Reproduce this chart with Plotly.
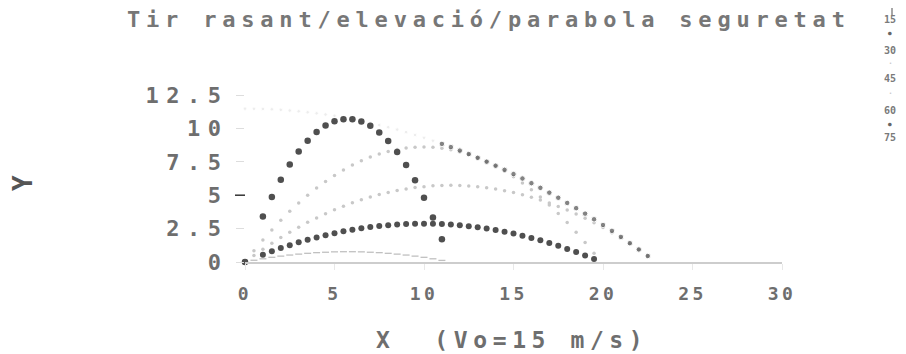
import plotly.graph_objects as go

# ---- data (V0 = 15 m/s) ----
ANGLE_LABELS = ["15", "30", "45", "60", "75"]

X_15 = [0.5, 1, 1.5, 2, 2.5, 3, 3.5, 4, 4.5, 5, 5.5, 6, 6.5, 7, 7.5, 8, 8.5, 9, 9.5, 10, 10.5, 11]
Y_15 = [0.13, 0.24, 0.35, 0.44, 0.52, 0.59, 0.65, 0.70, 0.73, 0.76, 0.77, 0.77, 0.76, 0.73, 0.70, 0.65,
        0.59, 0.52, 0.44, 0.35, 0.24, 0.12]

X_30 = [0, 1, 1.5, 2, 2.5, 3, 3.5, 4, 4.5, 5, 5.5, 6, 6.5, 7, 7.5, 8, 8.5, 9, 9.5, 10, 10.5, 11, 11.5,
        12, 12.5, 13, 13.5, 14, 14.5, 15, 15.5, 16, 16.5, 17, 17.5, 18, 18.5, 19, 19.5]
Y_30 = [0, 0.55, 0.80, 1.04, 1.26, 1.47, 1.67, 1.84, 2.01, 2.16, 2.30, 2.42, 2.53, 2.62, 2.70, 2.76,
        2.81, 2.84, 2.86, 2.87, 2.86, 2.84, 2.80, 2.75, 2.68, 2.60, 2.50, 2.39, 2.27, 2.13, 1.97, 1.80,
        1.62, 1.42, 1.21, 0.98, 0.74, 0.49, 0.22]

X_45 = [0.5, 1, 1.5, 2, 2.5, 3, 3.5, 4, 4.5, 5, 5.5, 6, 6.5, 7, 7.5, 8, 8.5, 9, 9.5, 10, 10.5, 11, 11.5,
        12, 12.5, 13, 13.5, 14, 14.5, 15, 15.5, 16, 16.5, 17, 17.5, 18, 18.5, 19, 19.5, 20, 20.5, 21,
        21.5, 22, 22.5]
Y_45 = [0.49, 0.96, 1.40, 1.83, 2.23, 2.61, 2.97, 3.30, 3.62, 3.91, 4.18, 4.43, 4.66, 4.87, 5.05, 5.21,
        5.35, 5.47, 5.57, 5.64, 5.70, 5.73, 5.74, 5.73, 5.69, 5.64, 5.56, 5.46, 5.34, 5.20, 5.03, 4.85,
        4.64, 4.41, 4.16, 3.89, 3.59, 3.27, 2.94, 2.58, 2.19, 1.79, 1.36, 0.92, 0.45]

X_60 = [0.5, 1, 1.5, 2, 2.5, 3, 3.5, 4, 4.5, 5, 5.5, 6, 6.5, 7, 7.5, 8, 8.5, 9, 9.5, 10, 10.5, 11, 11.5,
        12, 12.5, 13, 13.5, 14, 14.5, 15, 15.5, 16, 16.5, 17, 17.5, 18, 18.5, 19, 19.5]
Y_60 = [0.84, 1.65, 2.40, 3.12, 3.79, 4.41, 5.00, 5.53, 6.03, 6.48, 6.89, 7.26, 7.58, 7.86, 8.09, 8.28,
        8.43, 8.53, 8.59, 8.61, 8.58, 8.51, 8.40, 8.24, 8.04, 7.79, 7.51, 7.17, 6.80, 6.38, 5.92, 5.41,
        4.86, 4.27, 3.63, 2.95, 2.23, 1.46, 0.65]

X_75 = [0, 1, 1.5, 2, 2.5, 3, 3.5, 4, 4.5, 5, 5.5, 6, 6.5, 7, 7.5, 8, 8.5, 9, 9.5, 10, 10.5, 11]
Y_75 = [0, 3.41, 4.87, 6.16, 7.30, 8.27, 9.08, 9.73, 10.21, 10.53, 10.69, 10.69, 10.52, 10.19, 9.70,
        9.05, 8.23, 7.26, 6.11, 4.81, 3.34, 1.71]

X_SAFE = [0, 0.5, 1, 1.5, 2, 2.5, 3, 3.5, 4, 4.5, 5, 5.5, 6, 6.5, 7, 7.5, 8, 8.5, 9, 9.5, 10, 10.5, 11,
          11.5, 12, 12.5, 13, 13.5, 14, 14.5, 15, 15.5, 16, 16.5, 17, 17.5, 18, 18.5, 19, 19.5, 20,
          20.5, 21, 21.5, 22, 22.5]
Y_SAFE = [11.48, 11.47, 11.46, 11.43, 11.39, 11.34, 11.28, 11.21, 11.13, 11.04, 10.94, 10.82, 10.70,
          10.56, 10.41, 10.25, 10.09, 9.91, 9.72, 9.51, 9.30, 9.08, 8.84, 8.60, 8.34, 8.08, 7.80, 7.51,
          7.21, 6.90, 6.58, 6.25, 5.90, 5.55, 5.19, 4.81, 4.42, 4.03, 3.62, 3.20, 2.77, 2.33, 1.88,
          1.41, 0.94, 0.45]

X_TICKS = [0, 5, 10, 15, 20, 25, 30]
X_TICK_TEXT = ["0", "5", "10", "15", "20", "25", "30"]
Y_TICKS = [0, 2.5, 5, 7.5, 10, 12.5]
Y_TICK_TEXT = ["0", "2.5", "5", "7.5", "10", "12.5"]

TITLE = "Tir rasant/elevació/parabola seguretat"
X_TITLE = "X\u00a0\u00a0(Vo=15 m/s)"
Y_TITLE = "Y"

# ---- styling ----
FONT = "DejaVu Sans Mono"
TXT = "#6e6e6e"
DARK = "#4f4f4f"
FAINT = "#c8c8c8"

# plot area in reference pixels: x 245..782, y 95..262 (page offset compensated)
PW, PH = 537, 167
ML, MT = 237, 87


def spaced(s, ls):
    return '<span style="letter-spacing:%spx">%s</span>' % (ls, s)


def px(xp):
    return (xp - 245) / PW


def py(yp):
    return (262 - yp) / PH


fig = go.Figure()

fig.add_trace(go.Scatter(x=X_15, y=Y_15, mode="markers", cliponaxis=False,
                         marker=dict(symbol="line-ew", size=5, line=dict(width=1.3, color="#c0c0c0"))))
fig.add_trace(go.Scatter(x=X_45, y=Y_45, mode="markers", cliponaxis=False,
                         marker=dict(symbol="circle", size=3.5, color=FAINT)))
fig.add_trace(go.Scatter(x=X_60, y=Y_60, mode="markers", cliponaxis=False,
                         marker=dict(symbol="circle", size=3.5, color=FAINT)))
safe_colors = [DARK if xv >= 11 else "#e6e6e6" for xv in X_SAFE]
safe_sizes = [5.5 if xv >= 11 else 3.5 for xv in X_SAFE]
fig.add_trace(go.Scatter(x=X_SAFE, y=Y_SAFE, mode="markers", cliponaxis=False,
                         marker=dict(symbol="circle", size=safe_sizes, color=safe_colors)))
fig.add_trace(go.Scatter(x=X_30, y=Y_30, mode="markers", cliponaxis=False,
                         marker=dict(symbol="circle", size=6, color=DARK)))
fig.add_trace(go.Scatter(x=X_75, y=Y_75, mode="markers", cliponaxis=False,
                         marker=dict(symbol="circle", size=6.5, color=DARK)))

fig.update_layout(
    width=906, height=354,
    margin=dict(l=ML, r=906 - ML - PW, t=MT, b=354 - MT - PH),
    paper_bgcolor="white", plot_bgcolor="white",
    showlegend=False,
    font=dict(family=FONT, color=TXT),
)

fig.update_xaxes(range=[0, 30], tickmode="array", tickvals=X_TICKS,
                 ticktext=[spaced(t, 3.5) for t in X_TICK_TEXT],
                 tickfont=dict(family=FONT, size=18, color=TXT, weight=700),
                 ticks="outside", ticklen=6, tickcolor="#e8e8e8",
                 ticklabelstandoff=9,
                 showgrid=False, zeroline=False, showline=True,
                 linecolor="#cdcdcd", linewidth=1.5)
fig.update_yaxes(range=[0, 12.5], tickmode="array", tickvals=Y_TICKS,
                 ticktext=[spaced(t, 7.5) for t in Y_TICK_TEXT],
                 tickfont=dict(family=FONT, size=22, color=TXT, weight=700),
                 ticks="outside", ticklen=8, tickcolor="#dddddd",
                 ticklabelstandoff=3,
                 showgrid=False, zeroline=False, showline=False)

# dark tick mark at 5
fig.add_shape(type="line", xref="paper", yref="y", x0=-10 / PW, x1=0, y0=5, y1=5,
              line=dict(color="#333333", width=1.5))

ann = []
ann.append(dict(text=spaced(TITLE, 5.8), xref="paper", yref="paper", x=px(489), y=py(19),
                xanchor="center", yanchor="middle",
                showarrow=False, font=dict(family=FONT, size=22, color="#777777", weight=700)))
ann.append(dict(text=spaced(X_TITLE, 5.6), xref="paper", yref="paper", x=px(512), y=py(340),
                xanchor="center", yanchor="middle",
                showarrow=False, font=dict(family=FONT, size=23, color=TXT, weight=700)))
ann.append(dict(text=Y_TITLE, xref="paper", yref="paper", x=px(23), y=py(183), textangle=-90,
                xanchor="center", yanchor="middle",
                showarrow=False, font=dict(family=FONT, size=26, color="#555555", weight=700)))

# small legend on the right
leg_x = px(890)
label_py = [19, 50, 78, 110, 137]
sample_py = [None, 33, 63, 93, 123]
sample_dark = [False, True, False, False, True]
for lab, lp, sp, dk in zip(ANGLE_LABELS, label_py, sample_py, sample_dark):
    ann.append(dict(text=lab, xref="paper", yref="paper", x=leg_x, y=py(lp),
                    xanchor="center", yanchor="middle", showarrow=False,
                    font=dict(family=FONT, size=10, color="#7a7a7a", weight=700)))
    if sp is not None:
        ann.append(dict(text="●" if dk else "•", xref="paper", yref="paper", x=leg_x,
                        y=py(sp), xanchor="center", yanchor="middle", showarrow=False,
                        font=dict(family=FONT, size=6 if dk else 5,
                                  color="#666666" if dk else "#bbbbbb")))
fig.update_layout(annotations=ann)
# 15 deg sample (vertical dash)
fig.add_shape(type="line", xref="paper", yref="paper", x0=px(892), x1=px(892),
              y0=py(15), y1=py(-2), line=dict(color="#8a8a8a", width=1.5))

fig.write_html("out.html")
